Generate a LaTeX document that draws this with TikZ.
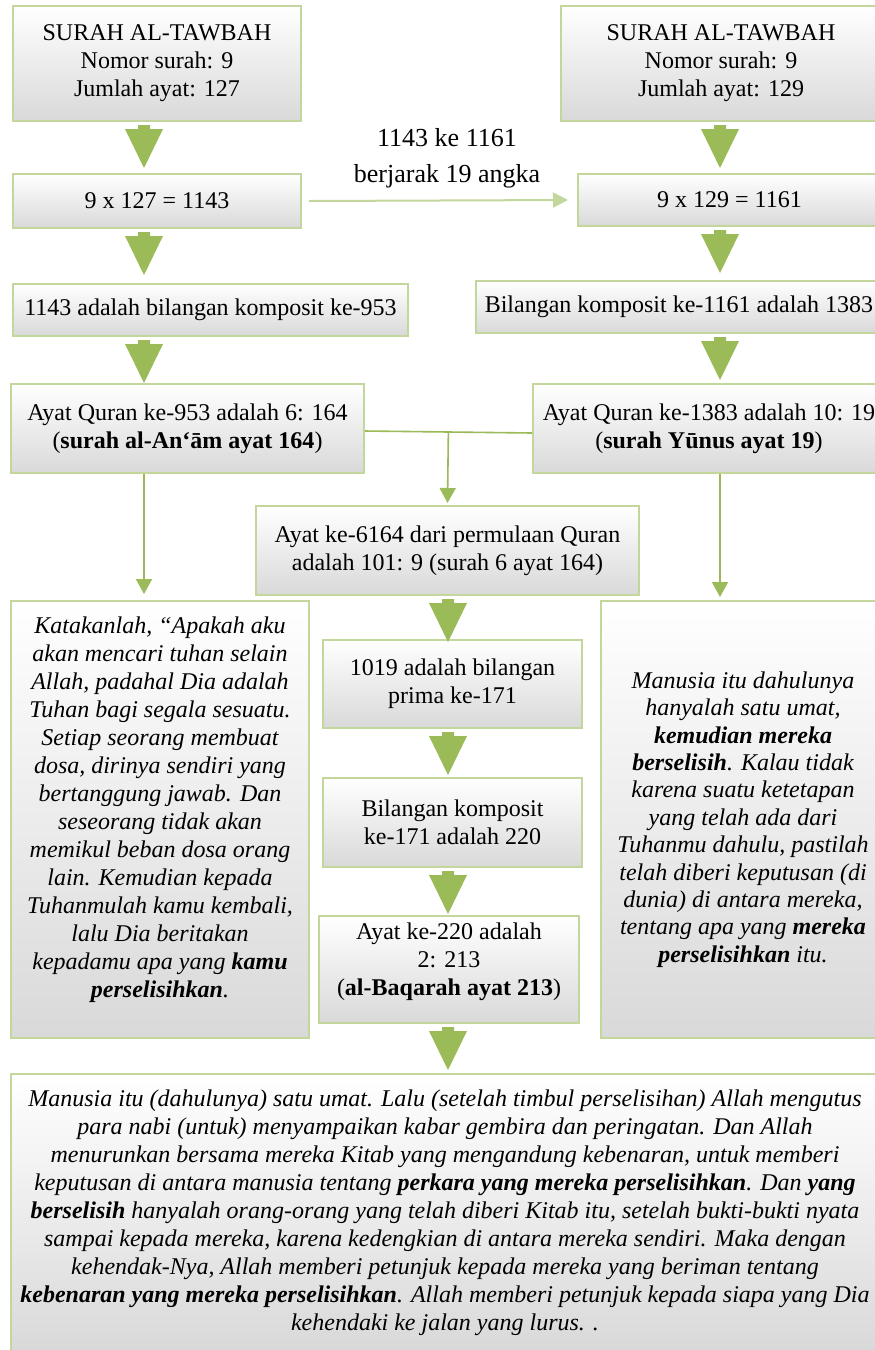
\documentclass[tikz,border=0pt]{standalone}
\usepackage{fontspec}
\setmainfont{Liberation Serif}
\usetikzlibrary{arrows.meta,calc}
\definecolor{agreen}{HTML}{9BBB59}
\definecolor{bgreen}{HTML}{C3D69B}
\tikzset{
  box/.style={draw=bgreen, line width=2pt, top color=white, bottom color=black!15,
    inner sep=0pt, align=center, anchor=north west,
    font=\fontsize{24}{28}\selectfont},
  itbox/.style={box, font=\fontsize{24}{28}\selectfont\itshape},
  thinarr/.style={draw=agreen, line width=1.6pt, -{Triangle[width=16pt,length=15pt]}},
  thinline/.style={draw=agreen, line width=1.6pt},
  lightarr/.style={draw=bgreen, line width=2pt, -{Triangle[width=15pt,length=15pt]}},
  lbl/.style={align=center, font=\fontsize{26}{36}\selectfont}
}
\newcommand\blockarr[2]{%
  \path (#1 |- #2.south) coordinate (ba1);
  \fill[agreen] ($(ba1)+(-6,3)$) -- ($(ba1)+(6,3)$) -- ($(ba1)+(6,7)$) -- ($(ba1)+(19,7)$)
    -- ($(ba1)+(0,46)$) -- ($(ba1)+(-19,7)$) -- ($(ba1)+(-6,7)$) -- cycle;
}
\begin{document}
\begin{tikzpicture}[x=1pt,y=-1pt]
\useasboundingbox (0,0) rectangle (875,1350);
\fill[white] (0,0) rectangle (875,1350);
\begin{scope}
\clip (0,0) rectangle (875,1350);
\coordinate (cL) at (144,0);
\coordinate (cR) at (720,0);
\coordinate (cM) at (448,0);

\node[box, minimum width=288, minimum height=115] (b1) at (12,5)
  {SURAH AL-TAWBAH\\Nomor surah: 9\\Jumlah ayat: 127};
\node[box, minimum width=320, minimum height=115] (b2) at (560,5)
  {SURAH AL-TAWBAH\\Nomor surah: 9\\Jumlah ayat: 129};
\node[box, minimum width=288, minimum height=54] (b3) at (12,173) {9 x 127 = 1143};
\node[box, minimum width=303, minimum height=52] (b4) at (577,173) {9 x 129 = 1161};
\node[box, minimum width=395, minimum height=52] (b5) at (12,283) {1143 adalah bilangan komposit ke-953};
\node[box, minimum width=406, minimum height=52] (b6) at (475,280) {Bilangan komposit ke-1161 adalah 1383};
\node[box, minimum width=353, minimum height=89] (b7) at (10,383)
  {Ayat Quran ke-953 adalah 6: 164\\(\textbf{surah al-An‘ām ayat 164})};
\node[box, minimum width=352, minimum height=89] (b8) at (532,383)
  {Ayat Quran ke-1383 adalah 10: 19\\(\textbf{surah Yūnus ayat 19})};
\node[box, minimum width=383, minimum height=89] (b9) at (255,505)
  {Ayat ke-6164 dari permulaan Quran\\adalah 101: 9 (surah 6 ayat 164)};
\node[itbox, minimum width=298, minimum height=437] (b10) at (10,600)
  {Katakanlah, “Apakah aku\\akan mencari tuhan selain\\Allah, padahal Dia adalah\\Tuhan bagi segala sesuatu.\\Setiap seorang membuat\\dosa, dirinya sendiri yang\\bertanggung jawab. Dan\\seseorang tidak akan\\memikul beban dosa orang\\lain. Kemudian kepada\\Tuhanmulah kamu kembali,\\lalu Dia beritakan\\kepadamu apa yang \textbf{kamu}\\\textbf{perselisihkan}.\\[-4pt]};
\node[box, minimum width=259, minimum height=88] (b11) at (322,639)
  {1019 adalah bilangan\\prima ke-171};
\node[box, minimum width=259, minimum height=89] (b12) at (322,777)
  {Bilangan komposit\\ke-171 adalah 220};
\node[box, minimum width=260, minimum height=107] (b13) at (318,915)
  {Ayat ke-220 adalah\\2: 213\\(\textbf{al-Baqarah ayat 213})\\[-8pt]};
\node[itbox, minimum width=284, minimum height=437,
      font=\fontsize{24}{27.4}\selectfont\itshape] (b14) at (600,600)
  {Manusia itu dahulunya\\hanyalah satu umat,\\\textbf{kemudian mereka}\\\textbf{berselisih}. Kalau tidak\\karena suatu ketetapan\\yang telah ada dari\\Tuhanmu dahulu, pastilah\\telah diberi keputusan (di\\dunia) di antara mereka,\\tentang apa yang \textbf{mereka}\\\textbf{perselisihkan} itu.};
\node[itbox, minimum width=868, minimum height=277] (b15) at (10,1073)
  {Manusia itu (dahulunya) satu umat. Lalu (setelah timbul perselisihan) Allah mengutus\\
   para nabi (untuk) menyampaikan kabar gembira dan peringatan. Dan Allah\\
   menurunkan bersama mereka Kitab yang mengandung kebenaran, untuk memberi\\
   keputusan di antara manusia tentang \textbf{perkara yang mereka perselisihkan}. Dan \textbf{yang}\\
   \textbf{berselisih} hanyalah orang-orang yang telah diberi Kitab itu, setelah bukti-bukti nyata\\
   sampai kepada mereka, karena kedengkian di antara mereka sendiri. Maka dengan\\
   kehendak-Nya, Allah memberi petunjuk kepada mereka yang beriman tentang\\
   \textbf{kebenaran yang mereka perselisihkan}. Allah memberi petunjuk kepada siapa yang Dia\\
   kehendaki ke jalan yang lurus. .};

\node[lbl] (lab) at (447,158) {1143 ke 1161\\berjarak 19 angka};

% block arrows
\blockarr{cL}{b1}
\blockarr{cL}{b3}
\blockarr{cL}{b5}
\blockarr{cR}{b2}
\blockarr{cR}{b4}
\blockarr{cR}{b6}
\blockarr{cM}{b9}
\blockarr{cM}{b11}
\blockarr{cM}{b12}
\blockarr{cM}{b13}

% thin connectors
\draw[lightarr] ($(b3.east)+(7,0)$) -- ($(b4.west)+(-9,0)$);
\coordinate (l1) at ($(b7.east)+(0,2.5)$);
\coordinate (l2) at ($(b8.west)+(0,4.5)$);
\draw[thinline] (l1) -- (l2);
\coordinate (jn) at ($(l1)!(b9.north)!(l2)$);
\draw[thinarr] (jn) -- ($(b9.north)+(0,-2)$);
\draw[thinarr] (cL |- b7.south) -- ($(cL |- b10.north)+(0,-6)$);
\draw[thinarr] (cR |- b8.south) -- ($(cR |- b14.north)+(0,-3)$);
\end{scope}
\end{tikzpicture}
\end{document}
